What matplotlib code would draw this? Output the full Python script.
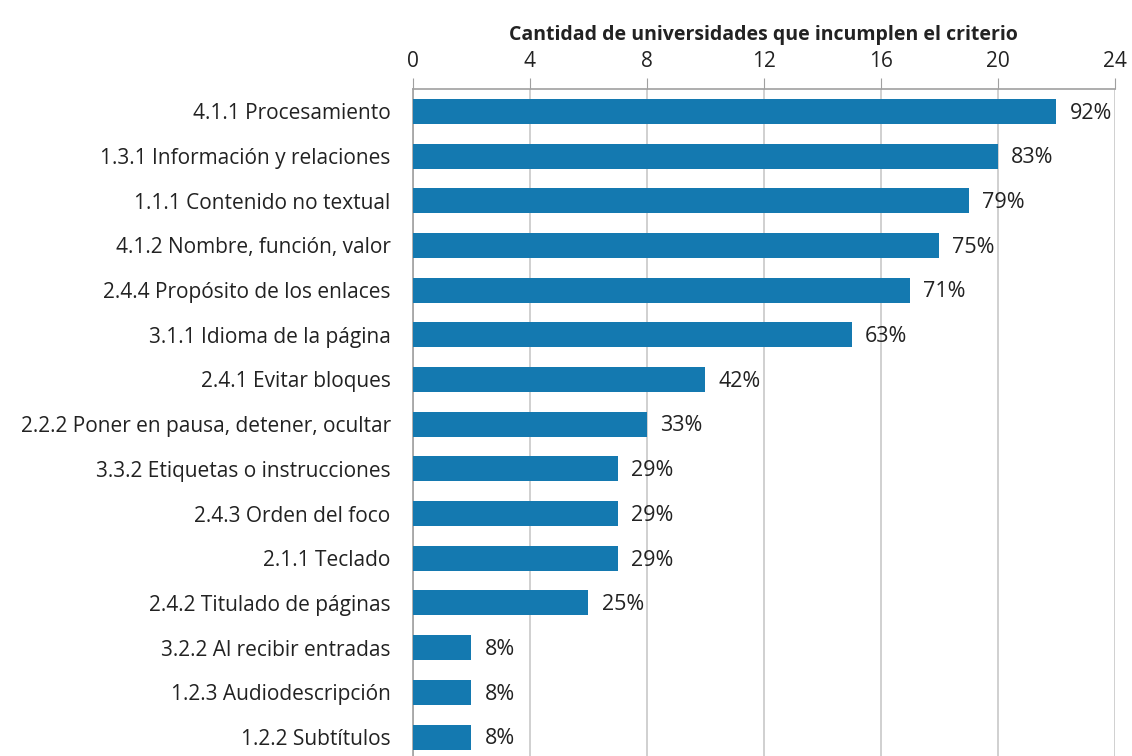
import matplotlib
matplotlib.use("Agg")
import matplotlib.pyplot as plt

# Datos
criterios = [
    "4.1.1 Procesamiento",
    "1.3.1 Información y relaciones",
    "1.1.1 Contenido no textual",
    "4.1.2 Nombre, función, valor",
    "2.4.4 Propósito de los enlaces",
    "3.1.1 Idioma de la página",
    "2.4.1 Evitar bloques",
    "2.2.2 Poner en pausa, detener, ocultar",
    "3.3.2 Etiquetas o instrucciones",
    "2.4.3 Orden del foco",
    "2.1.1 Teclado",
    "2.4.2 Titulado de páginas",
    "3.2.2 Al recibir entradas",
    "1.2.3 Audiodescripción",
    "1.2.2 Subtítulos",
]
cantidad = [22, 20, 19, 18, 17, 15, 10, 8, 7, 7, 7, 6, 2, 2, 2]
porcentaje = ["92%", "83%", "79%", "75%", "71%", "63%", "42%", "33%",
              "29%", "29%", "29%", "25%", "8%", "8%", "8%"]
ticks = [0, 4, 8, 12, 16, 20, 24]

plt.rcParams['font.family'] = ['Open Sans', 'DejaVu Sans']

fig = plt.figure(figsize=(11.32, 7.56), dpi=100)
ax = fig.add_axes([0.3648, -0.0045, 0.620, 0.8868])

y = list(range(len(criterios)))
ax.barh(y, cantidad, height=0.56, color='#1479b0', zorder=3)

for yi, v, p in zip(y, cantidad, porcentaje):
    ax.text(v + 0.45, yi + 0.04, p, va='center', ha='left', fontsize=15.5, color='#222222')

ax.set_ylim(len(criterios) - 0.5, -0.5)
ax.set_xlim(0, 24)
ax.set_yticks(y)
ax.set_yticklabels(criterios, fontsize=15, color='#222222')
ax.set_xticks(ticks)
ax.xaxis.tick_top()
ax.tick_params(axis='x', labelsize=15, colors='#222222', length=8, color='#a0a0a0', pad=4)
ax.tick_params(axis='y', length=0, pad=16)
ax.xaxis.set_label_position('top')
ax.set_xlabel("Cantidad de universidades que incumplen el criterio",
              fontsize=14, fontweight='bold', color='#222222', labelpad=8)

ax.grid(axis='x', color='#c8c8c8', linewidth=1.2, zorder=0)
for s in ['right', 'bottom']:
    ax.spines[s].set_visible(False)
for s in ['left', 'top']:
    ax.spines[s].set_color('#a0a0a0')
    ax.spines[s].set_linewidth(1.2)

fig.savefig("out.png", dpi=100)
